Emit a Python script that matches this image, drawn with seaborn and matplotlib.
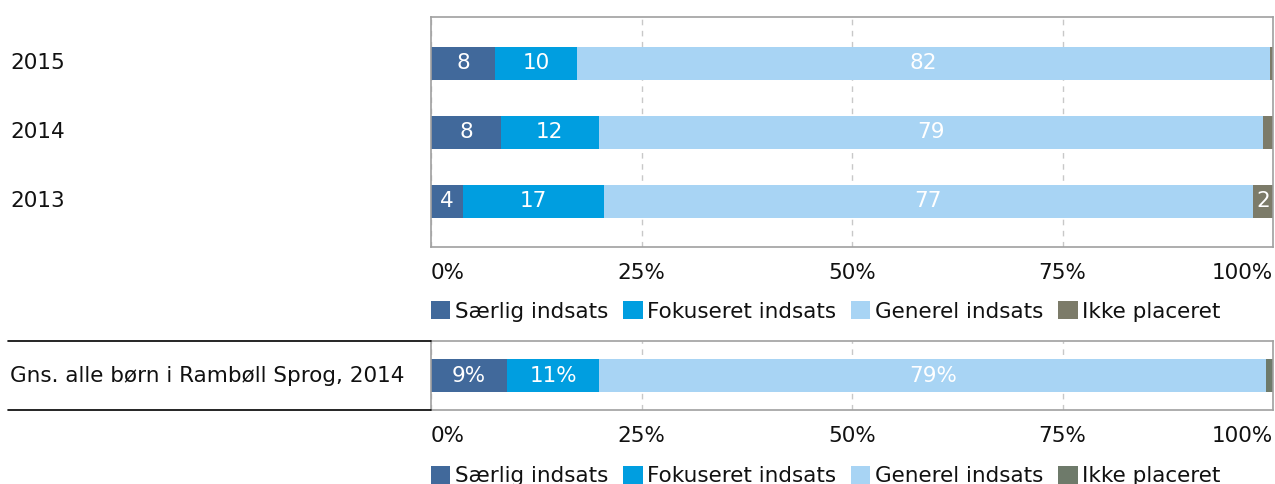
import numpy as np
import pandas as pd
import matplotlib
matplotlib.use("Agg")
import matplotlib.pyplot as plt
import matplotlib.transforms as mtransforms
from matplotlib.patches import Patch
from matplotlib.lines import Line2D
import seaborn as sns

# data
years = ["2015", "2014", "2013"]
saerlig = [7.6, 8.3, 3.8]
fokus = [9.7, 11.6, 16.7]
generel = [82.4, 78.9, 77.1]
ikke = [0.3, 1.2, 2.4]

avg_label = ["Gns. alle børn i Rambøll Sprog, 2014"]
avg_saerlig = [9.0]
avg_fokus = [11.0]
avg_generel = [79.2]
avg_ikke = [0.8]

series_names = ["Særlig indsats", "Fokuseret indsats", "Generel indsats", "Ikke placeret"]
colors_top = ["#41699b", "#009ee0", "#a8d4f4", "#7c7b69"]
colors_bot = ["#41699b", "#009ee0", "#a8d4f4", "#6e7a6a"]
xticks = [0, 25, 50, 75, 100]
xtick_labels = ["0%", "25%", "50%", "75%", "100%"]

FS = 15.5
W, H = 1275, 484
TXT = "#111111"

sns.set_theme(style="white")
plt.rcParams["font.family"] = ["DejaVu Sans"]


def stacked(ax, cats, parts, colors, bar_w, suffix=""):
    df = pd.DataFrame({"cat": cats})
    cum = np.cumsum(np.array(parts), axis=0)
    # draw the largest cumulative first so earlier segments sit on top
    for k in range(len(parts) - 1, -1, -1):
        df["v"] = cum[k]
        sns.barplot(data=df, x="v", y="cat", orient="h", color=colors[k],
                    saturation=1, width=bar_w, ax=ax, linewidth=0)
    for k in range(len(parts)):
        for i in range(len(cats)):
            v = parts[k][i]
            if v >= 2:
                ax.text(cum[k][i] - v / 2, i, f"{v:.0f}{suffix}", color="white",
                        fontsize=FS, ha="center", va="center")


def style_axis(ax, ylim):
    ax.set_xlim(0, 100)
    ax.set_ylim(*ylim)
    ax.set_xlabel("")
    ax.set_ylabel("")
    ax.set_yticks([])
    ax.set_xticks(xticks)
    ax.set_xticklabels(xtick_labels, fontsize=FS, color=TXT)
    labs = ax.get_xticklabels()
    labs[0].set_ha("left")
    labs[-1].set_ha("right")
    ax.tick_params(axis="x", length=0, pad=11.5)
    ax.set_axisbelow(True)
    ax.xaxis.grid(True, linestyle=(0, (4, 4)), color="#c8c8c8", linewidth=1)
    for sp in ax.spines.values():
        sp.set_color("#a0a0a0")
        sp.set_linewidth(1.2)


fig = plt.figure(figsize=(W / 100, H / 100), dpi=100)

ax1 = fig.add_axes([431 / W, (H - 247) / H, 842 / W, 230 / H])
stacked(ax1, years, [saerlig, fokus, generel, ikke], colors_top, 0.475)
style_axis(ax1, (2.66, -0.67))

ax2 = fig.add_axes([431 / W, (H - 410) / H, 842 / W, 69 / H])
stacked(ax2, avg_label, [avg_saerlig, avg_fokus, avg_generel, avg_ikke], colors_bot, 0.49, "%")
style_axis(ax2, (0.5, -0.5))

# category labels on the far left
for ax, cats in [(ax1, years), (ax2, avg_label)]:
    tr = mtransforms.blended_transform_factory(fig.transFigure, ax.transData)
    for i, c in enumerate(cats):
        ax.text(10 / W, i, c, transform=tr, fontsize=FS, ha="left", va="center",
                color=TXT)

# black rules around the average label
for y in (341, 410):
    fig.add_artist(Line2D([8 / W, 431 / W], [(H - y) / H] * 2, color="black",
                          linewidth=1.2, transform=fig.transFigure))

for colors, yc in [(colors_top, 311.5), (colors_bot, 476)]:
    handles = [Patch(facecolor=c, edgecolor="none") for c in colors]
    leg = fig.legend(handles, series_names, ncol=4, frameon=False, fontsize=FS,
                     loc="center left", bbox_to_anchor=(431 / W, (H - yc) / H),
                     handlelength=0.9, handleheight=0.9, handletextpad=0.2,
                     columnspacing=0.7, borderaxespad=0, borderpad=0)
    for t in leg.get_texts():
        t.set_color(TXT)

fig.savefig("out.png", dpi=100)
